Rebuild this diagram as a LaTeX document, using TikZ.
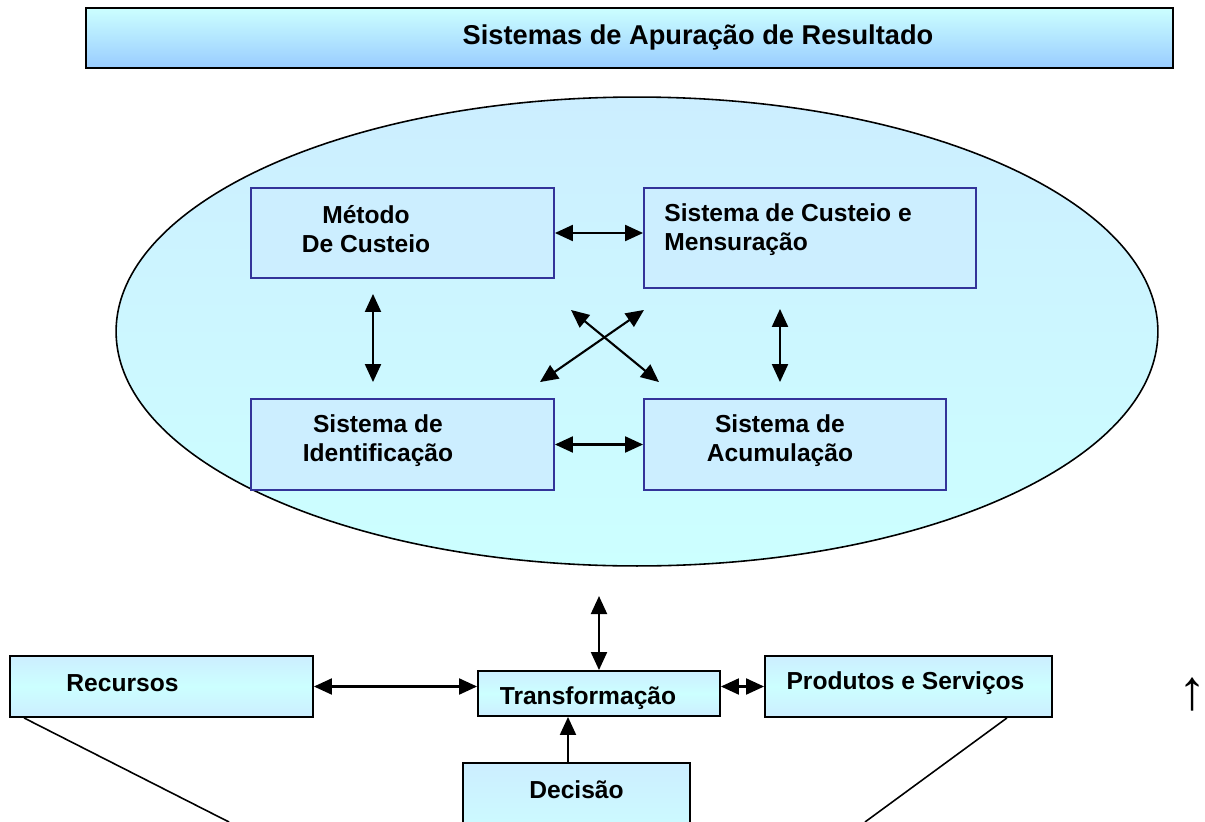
\documentclass[tikz,border=0pt]{standalone}
\usepackage{fontspec}
\setmainfont{Liberation Sans}
\usetikzlibrary{arrows.meta,calc,positioning,shapes.geometric}
\definecolor{paleblue}{HTML}{CCEEFF}
\definecolor{palecyan}{HTML}{CCFFFF}
\definecolor{skyblue}{HTML}{99CCFF}
\definecolor{boxedge}{HTML}{333399}
\tikzset{%
	titlebox/.style = {draw, line width=1.3pt, rectangle, top color=palecyan, bottom color=skyblue, minimum width=21.74cm, minimum height=1.2cm},
	oval/.style     = {draw, line width=0.9pt, ellipse, top color=paleblue, bottom color=palecyan, minimum width=20.84cm, minimum height=9.38cm},
	inner/.style    = {draw=boxedge, line width=1.1pt, rectangle, fill=paleblue}, % boxes inside the oval
	outer/.style    = {draw, line width=1.1pt, rectangle, top color=paleblue, bottom color=paleblue, middle color=palecyan}, % boxes below
	txt/.style      = {font=\fontsize{14}{16.5}\selectfont\bfseries, inner sep=0pt},
	link/.style     = {line width=1.2pt, >={Triangle[length=0.36cm,width=0.32cm]}},
}

\begin{document}
\begin{tikzpicture}[x=0.02cm,y=-0.02cm]
	\useasboundingbox (0,0) rectangle (1205,822);
	% title
	\node [titlebox] (title) at (629.5,38) {};
	\node [txt,font=\fontsize{15.5}{18}\selectfont\bfseries] (title-t) at (698,37) {Sistemas de Apuração de Resultado};
	
	% oval with the four systems
	\node [oval] (oval) at (637,331.5) {};
	\node [inner,minimum width=6.06cm,minimum height=1.8cm] (metodo) at (402.5,233) {};
	\node [inner,minimum width=6.64cm,minimum height=2cm] (custeio) at (810,238) {};
	\node [inner,minimum width=6.06cm,minimum height=1.82cm] (ident) at (402.5,444.5) {};
	\node [inner,minimum width=6.04cm,minimum height=1.82cm] (acum) at (795,444.5) {};
	\node [txt,align=center] (metodo-t) at (366,229) {Método\\De Custeio};
	\node [txt,align=left,anchor=west] (custeio-t) at (664,230) {Sistema de Custeio e\\Mensuração};
	\node [txt,align=center] (ident-t) at (378,441) {Sistema de\\Identificação};
	\node [txt,align=center] (acum-t) at (780,441) {Sistema de\\Acumulação};
	
	\draw[link,<->] (metodo.east) -- (metodo.east -| custeio.west);
	\draw[link,<->] (ident.east) -- (acum.west);
	\draw[link,<->] ($(metodo.south)+(-29.5,15)$) -- ($(ident.north)+(-29.5,-16)$);
	\draw[link,<->] ($(custeio.south)+(-30,20)$) -- ($(acum.north)+(-15,-16)$);
	\draw[link,<->] ($(ident.north)+(137.5,-16)$) -- ($(custeio.south)+(-166,21)$);
	\draw[link,<->] ($(metodo.south)+(168.5,31)$) -- ($(acum.north)+(-136,-16)$);
	
	% production chain
	\node [outer,minimum width=6.06cm,minimum height=1.22cm] (recursos) at (161.5,686.5) {};
	\node [outer,minimum width=4.84cm,minimum height=0.9cm] (transf) at (599,693.5) {};
	\node [outer,minimum width=5.74cm,minimum height=1.22cm] (produtos) at (908.5,686.5) {};
	\node [outer,minimum width=4.54cm,minimum height=1.8cm,anchor=north,middle color=paleblue,bottom color=palecyan] (decisao) at (576.5,762) {};
	\node [txt] (recursos-t) at (122.5,683) {Recursos};
	\node [txt] (transf-t) at (588,698) {Transformação};
	\node [txt] (produtos-t) at (905.5,683) {Produtos e Serviços};
	\node [txt] (decisao-t) at (576.5,790) {Decisão};
	\node [font=\fontsize{32}{34}\selectfont, inner sep=0pt] (up) at (1193,695) {↑};
	\coordinate (dec-out) at ($(decisao.north)+(-8.5,0)$);
	\coordinate (res-end) at (229,822);
	\coordinate (prod-end) at (865,822);
	
	\draw[link,<->] ($(transf.north)+(0,-74)$) -- (transf.north);
	\draw[link,<->] (recursos.east) -- (recursos.east -| transf.west);
	\draw[link,<->] (produtos.west -| transf.east) -- (produtos.west);
	\draw[link,->] (dec-out) -- (dec-out |- transf.south);
	\draw[line width=0.9pt] ($(recursos.south west)+(15,0)$) -- (res-end);
	\draw[line width=0.9pt] ($(produtos.south east)+(-46,0)$) -- (prod-end);
\end{tikzpicture}
\end{document}
